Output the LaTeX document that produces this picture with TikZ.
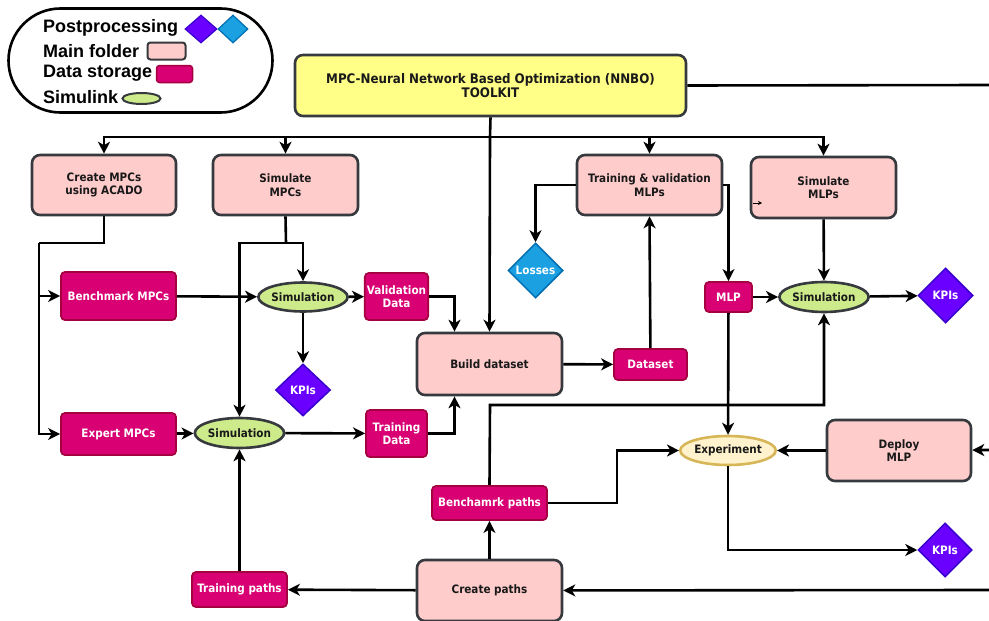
\documentclass[tikz,border=0pt]{standalone}
\usepackage{fontspec}
\usetikzlibrary{shapes.geometric,arrows.meta}
\newfontfamily\nf{DejaVu Sans Condensed}
\newfontfamily\lf{Liberation Sans}
\definecolor{cpink}{HTML}{FFCCCC}
\definecolor{cgray}{HTML}{36393D}
\definecolor{cyel}{HTML}{FFFF88}
\definecolor{cgreen}{HTML}{CDEB8B}
\definecolor{cmag}{HTML}{D80073}
\definecolor{cmagd}{HTML}{A50040}
\definecolor{cpur}{HTML}{6A00FF}
\definecolor{cpurd}{HTML}{3700CC}
\definecolor{cblue}{HTML}{1BA1E2}
\definecolor{cblued}{HTML}{006EAF}
\definecolor{cexp}{HTML}{FFF2CC}
\definecolor{cexpd}{HTML}{D6B656}
\tikzset{
  nfont/.style={font=\nf\bfseries\fontsize{11.6}{13.5}\selectfont},
  mainbox/.style={rectangle, rounded corners=8pt, draw=cgray, fill=cpink, line width=2.6pt, align=center, nfont, text=black!90, inner sep=2pt},
  databox/.style={rectangle, rounded corners=4pt, draw=cmagd, fill=cmag, line width=1.8pt, align=center, nfont, text=white, inner sep=2pt},
  simell/.style={ellipse, draw=cgray, fill=cgreen, line width=2.6pt, nfont, text=black!90, inner sep=0pt},
  kpibox/.style={diamond, draw=cpurd, fill=cpur, line width=1.5pt, nfont, text=white, inner sep=0pt},
  lossbox/.style={diamond, draw=cblued, fill=cblue, line width=1.5pt, nfont, text=white, inner sep=0pt},
  wire/.style={line width=2.6pt, draw=black},
  arr/.style={wire, -{Stealth[length=12pt,width=12pt,inset=3.5pt]}},
  legtext/.style={anchor=west, font=\lf\bfseries\fontsize{18}{20}\selectfont, inner sep=0pt},
}
\begin{document}
\begin{tikzpicture}[x=1pt,y=-1pt]
\useasboundingbox (0,0) rectangle (989,621);
% legend
\node[draw, line width=2.6pt, rounded corners=52pt, minimum width=264pt, minimum height=104pt] (legend) at (140.5,60.5) {};
\node[legtext] (lpost) at (43,28) {Postprocessing};
\node[diamond, draw=cpurd, fill=cpur, line width=1.2pt, minimum width=32pt, minimum height=28pt, inner sep=0pt] (lpur) at (201,29) {};
\node[diamond, draw=cblued, fill=cblue, line width=1.2pt, minimum width=30pt, minimum height=28pt, inner sep=0pt] (lblu) at (233,29) {};
\node[legtext] (lmain) at (43,51) {Main folder};
\node[rectangle, rounded corners=3pt, draw=cgray, fill=cpink, line width=2pt, minimum width=38pt, minimum height=17pt] (lpink) at (166.5,51) {};
\node[legtext] (ldata) at (43,73) {Data storage};
\node[rectangle, rounded corners=3pt, draw=cmagd, fill=cmag, line width=1.5pt, minimum width=36pt, minimum height=17pt] (lmag) at (174.5,74) {};
\node[legtext] (lsim) at (43,97) {Simulink};
\node[ellipse, draw=cgray, fill=cgreen, line width=2pt, minimum width=38pt, minimum height=11pt, inner sep=0pt] (lell) at (141.5,98.5) {};

% main boxes
\node[mainbox, fill=cyel, minimum width=391pt, minimum height=61pt, font=\nf\bfseries\fontsize{13.2}{14.5}\selectfont] (nnbo) at (490.5,85.5) {MPC-Neural Network Based Optimization (NNBO)\\TOOLKIT};
\node[mainbox, minimum width=144pt, minimum height=60pt] (create) at (104,185) {Create MPCs\\using ACADO};
\node[mainbox, minimum width=145pt, minimum height=60pt] (simmpc) at (285.5,185) {Simulate\\MPCs};
\node[mainbox, minimum width=145pt, minimum height=60pt] (train) at (649.5,185) {Training \& validation\\MLPs};
\node[mainbox, minimum width=145pt, minimum height=61pt] (simmlp) at (823.5,187.5) {Simulate\\MLPs};
\node[mainbox, minimum width=145pt, minimum height=62pt] (build) at (489.5,364) {Build dataset};
\node[mainbox, minimum width=144pt, minimum height=61pt] (deploy) at (899,450.5) {Deploy\\MLP};
\node[mainbox, minimum width=145pt, minimum height=61pt] (cpaths) at (489.5,590.5) {Create paths};

% data boxes
\node[databox, minimum width=115pt, minimum height=48pt] (bench) at (118.5,296) {Benchmark MPCs};
\node[databox, minimum width=61pt, minimum height=47pt] (valid) at (396.5,296.5) {Validation\\Data};
\node[databox, minimum width=115pt, minimum height=42pt] (expert) at (118.5,434) {Expert MPCs};
\node[databox, minimum width=61pt, minimum height=47pt] (tdata) at (396.5,433.5) {Training\\Data};
\node[databox, minimum width=73pt, minimum height=31pt] (dataset) at (650.5,364.5) {Dataset};
\node[databox, minimum width=47pt, minimum height=30pt] (mlp) at (728.5,297) {MLP};
\node[databox, minimum width=115pt, minimum height=34pt] (bpaths) at (489.5,503) {Benchamrk paths};
\node[databox, minimum width=95pt, minimum height=35pt] (tpaths) at (239.5,589.5) {Training paths};

% simulink
\node[simell, minimum width=84pt, minimum height=29pt] (sim1) at (303,297) {Simulation};
\node[simell, minimum width=83pt, minimum height=30pt] (sim2) at (239.5,433) {Simulation};
\node[simell, minimum width=84pt, minimum height=30pt] (sim3) at (824,297) {Simulation};
\node[simell, fill=cexp, draw=cexpd, minimum width=84pt, minimum height=29pt] (exp) at (728,450.5) {Experiment};

% postprocessing
\node[kpibox, minimum width=55pt, minimum height=52pt] (kpi1) at (303,390) {KPIs};
\node[kpibox, minimum width=55pt, minimum height=55pt] (kpi2) at (945.5,295.5) {KPIs};
\node[kpibox, minimum width=54pt, minimum height=54pt] (kpi3) at (945,550) {KPIs};
\node[lossbox, minimum width=55pt, minimum height=55pt] (losses) at (535.5,270.5) {Losses};

% coordinates
\coordinate (rtop) at (989,85);
\coordinate (rdep) at (989,450);
\coordinate (rbot) at (989,590);
\coordinate (bus) at (490,137);
\coordinate (c1) at (104,243);
\coordinate (c2) at (39,243);
\coordinate (s1) at (286,243);
\coordinate (bp1) at (490,405);
\coordinate (bp2) at (617,503);
\coordinate (art) at (753,203);

% connectors
\draw[wire] (nnbo.east) -- (rtop);
\draw[wire] (nnbo.south) -- (bus);
\draw[arr] (bus) -| (create.north);
\draw[arr] (bus) -| (simmpc.north);
\draw[arr] (bus) -| (train.north);
\draw[arr] (bus) -| (simmlp.north);
\draw[arr] (bus) -- (build.north);

\draw[wire] (create.south) -- (c1) -- (c2);
\draw[arr] (c2) |- (bench.west);
\draw[arr] (c2) |- (expert.west);
\draw[wire] (simmpc.south) -- (s1);
\draw[arr] (s1) -| (sim1.north);
\draw[arr] (s1) -| (sim2.north);

\draw[arr] (bench) -- (sim1);
\draw[arr] (sim1) -- (valid);
\draw[arr] (sim1) -- (kpi1);
\draw[arr] (valid.east) -| ([xshift=-35pt]build.north);
\draw[arr] (expert) -- (sim2);
\draw[arr] (sim2) -- (tdata);
\draw[arr] (tdata.east) -| ([xshift=-35pt]build.south);
\draw[arr] (tpaths) -- (sim2);
\draw[arr] (cpaths) -- (tpaths);
\draw[arr] (rbot) -- (cpaths);
\draw[arr] (cpaths) -- (bpaths);
\draw[arr] (bpaths.north) -- (bp1) -| (sim3.south);
\draw[arr] (bpaths.east) -- (bp2) |- (exp.west);
\draw[arr] (build) -- (dataset);
\draw[arr] (dataset) -- (train.south);
\draw[arr] (train.west) -| (losses.north);
\draw[arr] (train.east) -| (mlp.north);
\draw[arr] (mlp) -- (sim3);
\draw[arr] (simmlp) -- (sim3);
\draw[arr] (sim3) -- (kpi2);
\draw[arr] (mlp) -- (exp);
\draw[arr] (deploy) -- (exp);
\draw[arr] (rdep) -- (deploy);
\draw[arr] (exp.south) |- (kpi3.west);
\draw[line width=0.8pt, -{Stealth[length=4pt,width=4pt]}] (art) -- ++(9,0);
\end{tikzpicture}
\end{document}
